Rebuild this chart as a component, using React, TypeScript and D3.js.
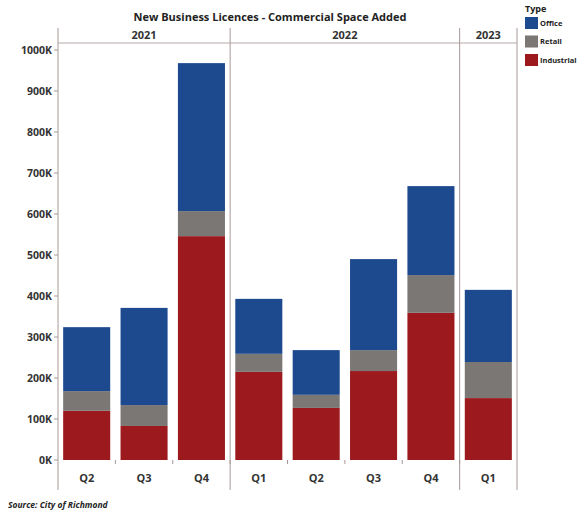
import { useEffect, useRef } from 'react';
import * as d3 from 'd3';

const quarters = ['Q2', 'Q3', 'Q4', 'Q1', 'Q2', 'Q3', 'Q4', 'Q1'];
const years = ['2021', '2021', '2021', '2022', '2022', '2022', '2022', '2023'];
const industrial = [120, 83, 546, 215, 127, 217, 359, 151];
const retail = [48, 51, 61, 44, 32, 51, 92, 88];
const office = [156, 237, 361, 134, 109, 222, 217, 176];
const types = ['Office', 'Retail', 'Industrial'];
const colors = ['#1d4a8f', '#7b7775', '#9c1a1e'];
const yTicks = [0, 100, 200, 300, 400, 500, 600, 700, 800, 900, 1000];

const W = 581;
const H = 512;

export default function App() {
  const svgRef = useRef<SVGSVGElement>(null);

  useEffect(() => {
    if (!svgRef.current) return;
    const svg = d3.select(svgRef.current);
    svg.selectAll('*').remove();

    const left = 58, right = 517, top = 28, headerY = 43, bottom = 460, axisEnd = 490;
    const font = '"Open Sans", "Liberation Sans", sans-serif';

    const rows = quarters.map((q, i) => ({
      key: i,
      Industrial: industrial[i],
      Retail: retail[i],
      Office: office[i],
    }));

    const x = d3.scaleBand<number>().domain(d3.range(quarters.length)).range([left, right]).paddingInner(0.18).paddingOuter(0.09);
    const y = d3.scaleLinear().domain([0, 1000]).range([bottom, 50]);
    const color = d3.scaleOrdinal<string, string>().domain(types).range(colors);

    // title
    svg.append('text')
      .attr('x', 270).attr('y', 21)
      .attr('text-anchor', 'middle')
      .style('font-family', font).style('font-weight', 'bold').style('font-size', '11px')
      .attr('fill', '#222')
      .text('New Business Licences - Commercial Space Added');

    // frame lines
    const g = svg.append('g');
    g.append('line').attr('x1', left).attr('x2', right).attr('y1', headerY).attr('y2', headerY).attr('stroke', '#b5aaa8');
    g.append('line').attr('x1', left).attr('x2', left).attr('y1', top).attr('y2', axisEnd).attr('stroke', '#a79a98');
    g.append('line').attr('x1', right).attr('x2', right).attr('y1', top).attr('y2', axisEnd).attr('stroke', '#a79a98');

    // year groups
    const yearGroups = d3.groups(quarters.map((q, i) => ({ i, year: years[i] })), (d) => d.year);
    const step = x.step();
    yearGroups.forEach(([year, items], gi) => {
      const x0 = left + items[0].i * step;
      const x1 = left + (items[items.length - 1].i + 1) * step;
      if (gi > 0) {
        g.append('line').attr('x1', x0).attr('x2', x0).attr('y1', top).attr('y2', axisEnd).attr('stroke', '#a79a98');
      }
      g.append('text')
        .attr('x', (x0 + x1) / 2).attr('y', 39)
        .attr('text-anchor', 'middle')
        .style('font-family', font).style('font-weight', 'bold').style('font-size', '11px')
        .attr('fill', '#333')
        .text(year);
    });

    // y axis ticks
    yTicks.forEach((t) => {
      g.append('line').attr('x1', left - 4).attr('x2', left).attr('y1', y(t)).attr('y2', y(t)).attr('stroke', '#a79a98');
      g.append('text')
        .attr('x', left - 6).attr('y', y(t)).attr('dy', '0.35em')
        .attr('text-anchor', 'end')
        .style('font-family', font).style('font-weight', 'bold').style('font-size', '10.5px')
        .attr('fill', '#333')
        .text(`${t}K`);
    });

    // small ticks at bottom between categories
    d3.range(1, quarters.length).forEach((i) => {
      const xx = left + i * step;
      g.append('line').attr('x1', xx).attr('x2', xx).attr('y1', bottom).attr('y2', bottom + 4).attr('stroke', '#a79a98');
    });

    // bars
    const stack = d3.stack<any>().keys(['Industrial', 'Retail', 'Office']);
    const series = stack(rows as any);
    svg.append('g')
      .selectAll('g')
      .data(series)
      .join('g')
      .attr('fill', (s) => color(s.key))
      .selectAll('rect')
      .data((s) => s)
      .join('rect')
      .attr('x', (d: any) => x(d.data.key)!)
      .attr('width', x.bandwidth())
      .attr('y', (d) => y(d[1]))
      .attr('height', (d) => y(d[0]) - y(d[1]));

    // quarter labels
    quarters.forEach((q, i) => {
      g.append('text')
        .attr('x', x(i)! + x.bandwidth() / 2).attr('y', 482)
        .attr('text-anchor', 'middle')
        .style('font-family', font).style('font-weight', 'bold').style('font-size', '11px')
        .attr('fill', '#333')
        .text(q);
    });

    // legend
    const lg = svg.append('g').attr('transform', 'translate(525,0)');
    lg.append('text').attr('x', 0).attr('y', 12)
      .style('font-family', font).style('font-weight', 'bold').style('font-size', '9px')
      .attr('fill', '#222').text('Type');
    types.forEach((t, i) => {
      lg.append('rect').attr('x', 0).attr('y', 17 + i * 18.5).attr('width', 13).attr('height', 12).attr('fill', color(t));
      lg.append('text').attr('x', 15).attr('y', 23 + i * 18.5).attr('dy', '0.35em')
        .style('font-family', font).style('font-weight', 'bold').style('font-size', '7.5px')
        .attr('fill', '#222').text(t);
    });

    // source
    svg.append('text').attr('x', 8).attr('y', 508)
      .style('font-family', font).style('font-weight', 'bold').style('font-style', 'italic').style('font-size', '8.5px')
      .attr('fill', '#222').text('Source: City of Richmond');
  }, []);

  return (
    <div style={{ position: 'absolute', left: 0, top: 0 }}>
      <svg ref={svgRef} width={W} height={H} style={{ display: 'block', background: '#fff' }} />
    </div>
  );
}
